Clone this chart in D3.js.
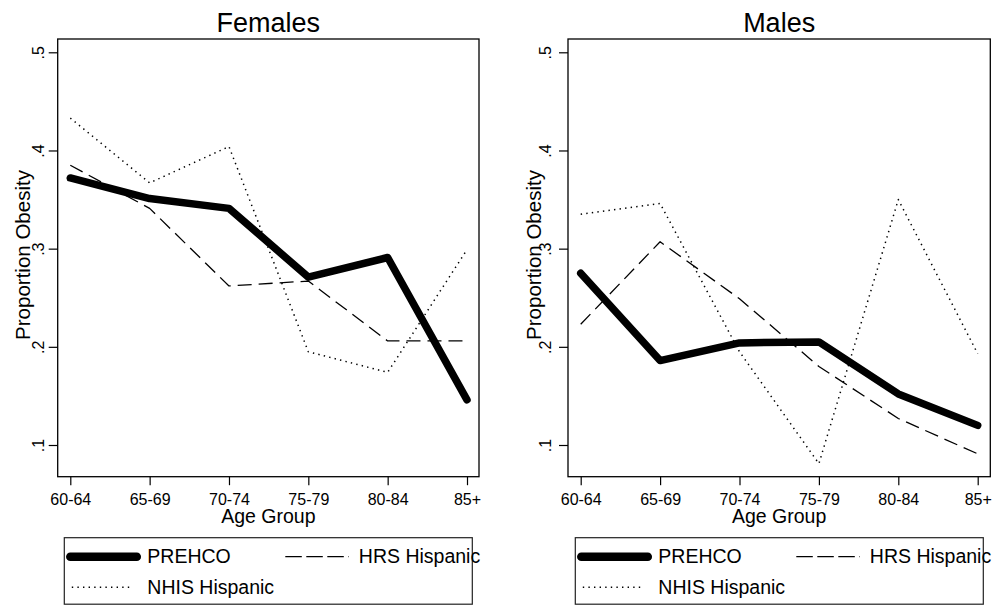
<!DOCTYPE html>
<html>
<head>
<meta charset="utf-8">
<script src="https://cdn.jsdelivr.net/npm/d3@7"></script>
<style>
  body { margin: 0; background: #fff; }
  svg { display: block; font-family: "Liberation Sans", Arial, sans-serif; }
</style>
</head>
<body>
<svg id="chart" width="998" height="610"></svg>
<script>
// age groups along the x axis
const ageGroups = ['60-64', '65-69', '70-74', '75-79', '80-84', '85+'];
const yTicks = [0.1, 0.2, 0.3, 0.4, 0.5];

// proportion obese
const femalesPrehco = [0.372, 0.351, 0.341, 0.271, 0.291, 0.146];
const femalesHrs    = [0.385, 0.341, 0.262, 0.267, 0.206, 0.206];
const femalesNhis   = [0.433, 0.367, 0.404, 0.195, 0.174, 0.299];

const malesPrehco = [0.275, 0.186, 0.204, 0.205, 0.152, 0.120];
const malesHrs    = [0.223, 0.307, 0.249, 0.180, 0.127, 0.091];
const malesNhis   = [0.335, 0.346, 0.195, 0.081, 0.350, 0.193];

const seriesNames = ['PREHCO', 'HRS Hispanic', 'NHIS Hispanic'];

const lineStyles = {
    'PREHCO':        { width: 7.5, dash: null },
    'HRS Hispanic':  { width: 1.3, dash: '14,7' },
    'NHIS Hispanic': { width: 1.5, dash: '1.4,4.2' }
};

const svg = d3.select('#chart');

const panels = [
    { title: 'Females', series: [femalesPrehco, femalesHrs, femalesNhis],
      box: [57.7, 479], xr: [70.3, 467], tickLab: 43.5, axTitle: 29.5, legend: 64.3 },
    { title: 'Males', series: [malesPrehco, malesHrs, malesNhis],
      box: [568, 990.3], xr: [580.7, 977.7], tickLab: 551, axTitle: 540.5, legend: 575.3 }
];

const boxTop = 39, boxBottom = 476.7;
const y = d3.scaleLinear().domain([0.1, 0.5]).range([445, 52.3]);

panels.forEach(p => {
    const g = svg.append('g');
    const x = d3.scalePoint().domain(ageGroups).range(p.xr);
    const midX = (p.box[0] + p.box[1]) / 2;

    g.append('text')
        .attr('x', midX).attr('y', 31.5)
        .attr('text-anchor', 'middle')
        .attr('font-size', 27)
        .text(p.title);

    // plot region border
    g.append('rect')
        .attr('x', p.box[0]).attr('y', boxTop)
        .attr('width', p.box[1] - p.box[0]).attr('height', boxBottom - boxTop)
        .attr('fill', 'none').attr('stroke', '#000').attr('stroke-width', 1.3);

    // y axis ticks + rotated labels
    const yAxis = g.append('g').attr('transform', `translate(${p.box[0]},0)`)
        .call(d3.axisLeft(y).tickValues(yTicks).tickSize(9).tickPadding(0)
            .tickFormat(d => d3.format('.1f')(d).replace(/^0/, '')));
    yAxis.select('.domain').remove();
    yAxis.selectAll('.tick line').attr('stroke-width', 1.2);
    yAxis.selectAll('.tick text')
        .attr('x', null).attr('dy', null)
        .attr('text-anchor', 'middle')
        .attr('font-size', 16)
        .attr('font-family', '"Liberation Sans", Arial, sans-serif')
        .attr('transform', `translate(${p.tickLab - p.box[0]},0) rotate(-90)`);

    // x axis ticks + labels
    const xAxis = g.append('g').attr('transform', `translate(0,${boxBottom})`)
        .call(d3.axisBottom(x).tickSize(8.5).tickPadding(0));
    xAxis.select('.domain').remove();
    xAxis.selectAll('.tick line').attr('stroke-width', 1.2);
    xAxis.selectAll('.tick text')
        .attr('y', 28).attr('dy', null)
        .attr('font-size', 16)
        .attr('font-family', '"Liberation Sans", Arial, sans-serif');

    g.append('text')
        .attr('x', midX).attr('y', 523)
        .attr('text-anchor', 'middle')
        .attr('font-size', 19.5)
        .text('Age Group');

    g.append('text')
        .attr('transform', `translate(${p.axTitle},255) rotate(-90)`)
        .attr('text-anchor', 'middle')
        .attr('font-size', 20.5)
        .text('Proportion Obesity');

    // series lines (thin ones first, thick on top)
    const line = d3.line().x((d, i) => x(ageGroups[i])).y(d => y(d));
    [2, 1, 0].forEach(k => {
        const st = lineStyles[seriesNames[k]];
        g.append('path')
            .datum(p.series[k])
            .attr('d', line)
            .attr('fill', 'none')
            .attr('stroke', '#000')
            .attr('stroke-width', st.width)
            .attr('stroke-dasharray', st.dash)
            .attr('stroke-linecap', k === 0 ? 'round' : 'butt')
            .attr('stroke-linejoin', 'round');
    });

    // legend
    const lx = p.legend;
    const lg = g.append('g');
    lg.append('rect')
        .attr('x', lx).attr('y', 537.7)
        .attr('width', 408).attr('height', 66.5)
        .attr('fill', 'none').attr('stroke', '#222').attr('stroke-width', 1.2);

    const items = [
        { name: 'PREHCO', x0: lx + 6, x1: lx + 72.5, tx: lx + 83, ly: 556.7, ty: 563.3 },
        { name: 'HRS Hispanic', x0: lx + 221, x1: lx + 284.5, tx: lx + 294.5, ly: 556.7, ty: 563.3 },
        { name: 'NHIS Hispanic', x0: lx + 7.5, x1: lx + 65, tx: lx + 83, ly: 587.3, ty: 594 }
    ];
    items.forEach(it => {
        const st = lineStyles[it.name];
        lg.append('line')
            .attr('x1', it.x0).attr('x2', it.x1)
            .attr('y1', it.ly).attr('y2', it.ly)
            .attr('stroke', '#000')
            .attr('stroke-width', it.name === 'PREHCO' ? 8.5 : st.width)
            .attr('stroke-dasharray', it.name === 'HRS Hispanic' ? '16.5,4.5' : st.dash)
            .attr('stroke-linecap', it.name === 'PREHCO' ? 'round' : 'butt');
        lg.append('text')
            .attr('x', it.tx).attr('y', it.ty)
            .attr('font-size', 19.5)
            .text(it.name);
    });
});
</script>
</body>
</html>
